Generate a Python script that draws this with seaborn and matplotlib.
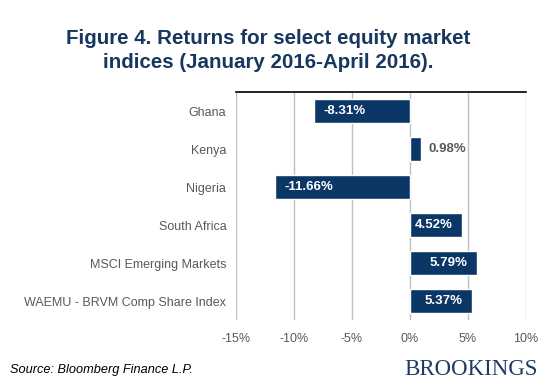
import matplotlib
matplotlib.use("Agg")
import matplotlib.pyplot as plt
import seaborn as sns
import pandas as pd

markets = ["Ghana", "Kenya", "Nigeria", "South Africa",
           "MSCI Emerging Markets", "WAEMU - BRVM Comp Share Index"]
returns = [-8.31, 0.98, -11.66, 4.52, 5.79, 5.37]
x_ticks = [-15, -10, -5, 0, 5, 10]

navy = "#0B3767"
grey = "#595959"

df = pd.DataFrame({"market": markets, "ret": returns})

sns.set_style("white")
plt.rcParams["font.family"] = ["Liberation Sans", "DejaVu Sans"]

fig = plt.figure(figsize=(5.48, 3.85), dpi=100)
ax = fig.add_axes([0.4307, 0.1688, 0.5286, 0.5922])

sns.barplot(data=df, x="ret", y="market", orient="h", color=navy,
            width=0.62, saturation=1, ax=ax, zorder=3)

ax.set_xlim(-15, 10)
ax.set_ylim(5.5, -0.5)
ax.set_xticks(x_ticks)
ax.set_xticklabels([f"{t}%" for t in x_ticks])
ax.grid(axis="x", color="#BFBFBF", linewidth=1, zorder=0)
ax.grid(axis="y", visible=False)
ax.tick_params(axis="both", length=0, labelsize=9, labelcolor=grey)
ax.tick_params(axis="y", pad=7)
ax.tick_params(axis="x", pad=9)
ax.set_xlabel("")
ax.set_ylabel("")
for side in ["left", "right", "bottom"]:
    ax.spines[side].set_visible(False)
ax.spines["top"].set_color("black")
ax.spines["top"].set_linewidth(1.2)

# data labels: inside end in white, outside for the short Kenya bar
for i, v in enumerate(returns):
    label = f"{v:.2f}%"
    if abs(v) < 2:
        ax.annotate(label, (v, i), xytext=(5, 0), textcoords="offset points",
                    ha="left", va="center", color=grey, fontsize=9.5,
                    fontweight="bold")
    elif v < 0:
        ax.annotate(label, (v, i), xytext=(7, 0), textcoords="offset points",
                    ha="left", va="center", color="white", fontsize=9.5,
                    fontweight="bold")
    else:
        ax.annotate(label, (v, i), xytext=(-7, 0), textcoords="offset points",
                    ha="right", va="center", color="white", fontsize=9.5,
                    fontweight="bold")

fig.text(0.49, 0.868, "Figure 4. Returns for select equity market\nindices (January 2016-April 2016).",
         ha="center", va="center", fontsize=14.8, fontweight="bold",
         color="#17375E", linespacing=1.32)
fig.text(0.018, 0.04, "Source: Bloomberg Finance L.P.", ha="left", va="center",
         fontsize=9.2, style="italic", color="black")
fig.text(0.981, 0.04, "BROOKINGS", ha="right", va="center", fontsize=16.5,
         color="#1F3A64", family=["Liberation Serif", "DejaVu Serif"])

fig.savefig("out.png", dpi=100)
